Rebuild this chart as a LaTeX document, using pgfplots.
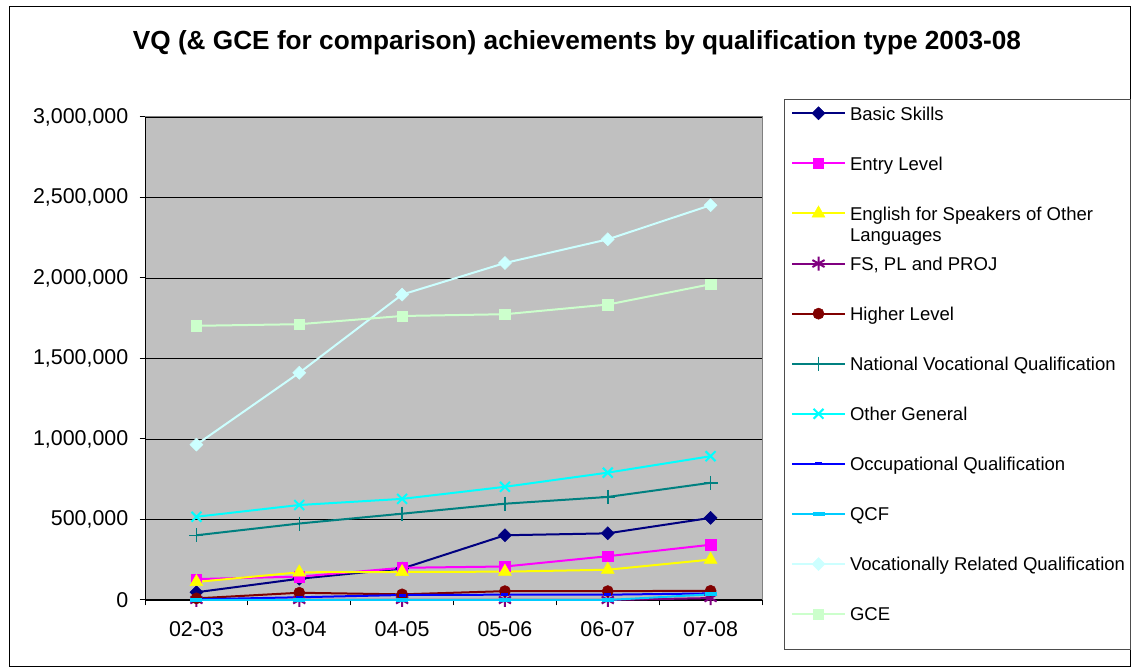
\documentclass[border=0pt]{standalone}
\usepackage{pgfplots}
\pgfplotsset{compat=1.18}
\usepackage{fontspec}
\setmainfont{Liberation Sans}
\definecolor{cNavy}{RGB}{0,0,128}
\definecolor{cMag}{RGB}{255,0,255}
\definecolor{cYel}{RGB}{255,255,0}
\definecolor{cPur}{RGB}{128,0,128}
\definecolor{cDRed}{RGB}{128,0,0}
\definecolor{cTeal}{RGB}{0,128,128}
\definecolor{cCyan}{RGB}{0,255,255}
\definecolor{cBlue}{RGB}{0,0,255}
\definecolor{cSky}{RGB}{0,204,255}
\definecolor{cLCyan}{RGB}{204,255,255}
\definecolor{cLGreen}{RGB}{204,255,204}
\definecolor{plotgray}{RGB}{192,192,192}
\definecolor{bordergray}{RGB}{128,128,128}
\newcommand\lent[1]{\raisebox{0pt}[15bp][3bp]{#1}}
\begin{document}
\begin{tikzpicture}[x=1bp,y=1bp]
\useasboundingbox (0,0) rectangle (1132,668);
\fill[white] (0,0) rectangle (1132,668);
\draw[black, line width=1bp] (9.5,1) rectangle (1130.5,661.5);
\node[font=\fontsize{26.3}{30}\selectfont\bfseries, anchor=base] at (577,618) {VQ (\& GCE for comparison) achievements by qualification type 2003-08};
\draw[bordergray!60!black, line width=1bp] (784,18) rectangle (1130.5,568);
\begin{axis}[
  at={(145bp,68bp)}, anchor=south west,
  scale only axis, width=617bp, height=483bp,
  xmin=-0.5, xmax=5.5, ymin=0, ymax=3000000,
  enlargelimits=false, clip=false,
  xtick={-0.5,0.5,1.5,2.5,3.5,4.5,5.5},
  xticklabels={02-03,03-04,04-05,05-06,06-07,07-08,{}},
  xticklabel style={xshift=51.42bp, anchor=north, inner sep=0pt, yshift=-16bp},
  ytick={0,500000,1000000,1500000,2000000,2500000,3000000},
  scaled y ticks=false,
  /pgf/number format/assume math mode=true,
  yticklabel style={/pgf/number format/fixed, /pgf/number format/1000 sep={,}},
  yticklabel style={anchor=east, inner sep=0pt, xshift=-11bp},
  tick label style={font=\fontsize{21.5}{24}\selectfont},
  ymajorgrids, grid style={black, line width=0.8bp},
  axis x line*=bottom, axis y line*=left,
  axis line style={black, line width=1bp, -},
  tick align=outside, major tick length=5.5bp,
  tick style={black, line width=1bp},
  axis background/.style={fill=plotgray, draw=bordergray, line width=1bp},
  legend cell align=left,
  legend style={draw=none, fill=none, inner sep=0pt, outer sep=0pt,
    at={(1.0470,1.0248)}, anchor=north west,
    row sep=33.6bp, column sep=4bp,
    font=\fontsize{18.6}{21}\selectfont, nodes={inner sep=0pt}},
  legend image code/.code={\draw[mark repeat=2,mark phase=2] plot coordinates {(0bp,0bp) (26.5bp,0bp) (53bp,0bp)};},
  every axis plot/.append style={line width=2bp},
]
\addplot[cNavy, mark=square*, mark size=4.6bp, mark options={rotate=45, solid, line width=0.5bp}] coordinates {(0,48000) (1,132000) (2,195000) (3,402000) (4,414000) (5,510000)};
\addlegendentry{\lent{Basic Skills}}
\addplot[cMag, mark=square*, mark size=5.2bp, mark options={solid, line width=0.5bp}] coordinates {(0,130000) (1,145000) (2,200000) (3,208000) (4,272000) (5,343000)};
\addlegendentry{\lent{Entry Level}}
\addplot[cYel, mark=triangle*, mark size=7.5bp, mark options={solid, line width=0.5bp}] coordinates {(0,112000) (1,172000) (2,174000) (3,176000) (4,188000) (5,251000)};
\addlegendentry{\lent{\parbox[t]{300bp}{English for Speakers of Other\\Languages}}}
\addplot[cPur, mark=asterisk, mark size=7bp, mark options={solid, line width=2bp}] coordinates {(0,0) (1,0) (2,0) (3,0) (4,0) (5,12000)};
\addlegendentry{\lent{FS, PL and PROJ}}
\addplot[cDRed, mark=*, mark size=5.6bp, mark options={solid, line width=0.5bp}] coordinates {(0,10000) (1,45000) (2,35000) (3,55000) (4,55000) (5,57000)};
\addlegendentry{\lent{Higher Level}}
\addplot[cTeal, mark=+, mark size=7bp, mark options={solid, line width=1.5bp}] coordinates {(0,402000) (1,475000) (2,536000) (3,598000) (4,640000) (5,728000)};
\addlegendentry{\lent{National Vocational Qualification}}
\addplot[cCyan, mark=x, mark size=7bp, mark options={solid, line width=2bp}] coordinates {(0,517000) (1,590000) (2,628000) (3,703000) (4,791000) (5,893000)};
\addlegendentry{\lent{Other General}}
\addplot[cBlue, mark=-, mark size=3.5bp, mark options={solid, line width=3bp}] coordinates {(0,4000) (1,17000) (2,31000) (3,33000) (4,33000) (5,41000)};
\addlegendentry{\lent{Occupational Qualification}}
\addplot[cSky, mark=-, mark size=6bp, mark options={solid, line width=4bp}] coordinates {(0,0) (1,0) (2,0) (3,0) (4,0) (5,35000)};
\addlegendentry{\lent{QCF}}
\addplot[cLCyan, mark=square*, mark size=4.6bp, mark options={rotate=45, solid, line width=0.5bp}] coordinates {(0,965000) (1,1411000) (2,1897000) (3,2093000) (4,2240000) (5,2452000)};
\addlegendentry{\lent{Vocationally Related Qualification}}
\addplot[cLGreen, mark=square*, mark size=5.2bp, mark options={solid, line width=0.5bp}] coordinates {(0,1703000) (1,1713000) (2,1764000) (3,1775000) (4,1835000) (5,1961000)};
\addlegendentry{\lent{GCE}}
\end{axis}
\end{tikzpicture}
\end{document}
